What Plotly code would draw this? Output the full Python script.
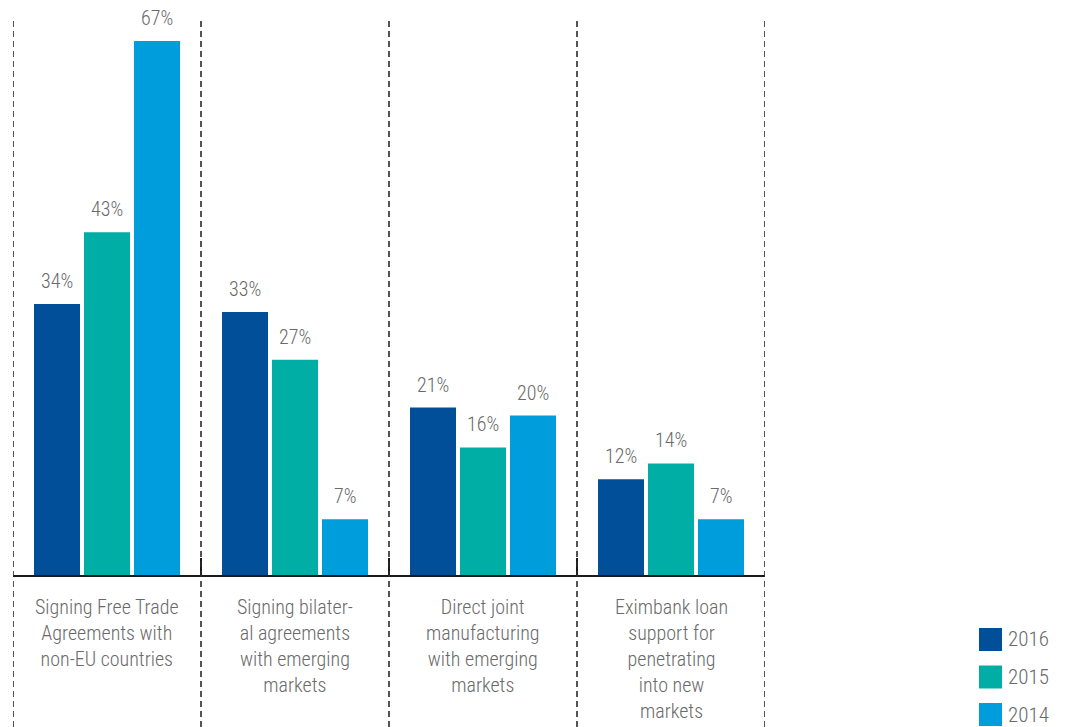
import plotly.graph_objects as go

# Survey results: share of respondents per measure and year
categories = [
    "Signing Free Trade<br>Agreements with<br>non-EU countries",
    "Signing bilater-<br>al agreements<br>with emerging<br>markets",
    "Direct joint<br>manufacturing<br>with emerging<br>markets",
    "Eximbank loan<br>support for<br>penetrating<br>into new<br>markets",
]
years = ["2016", "2015", "2014"]
values_2016 = [34, 33, 21, 12]
values_2015 = [43, 27, 16, 14]
values_2014 = [67, 7, 20, 7]
series = [values_2016, values_2015, values_2014]
colors = ["#004f98", "#00aea6", "#009ddd"]

W, H = 1066, 727
ML, MR, MT, MB = 13, 301, 17, 152
PW, PH = W - ML - MR, H - MT - MB

FONT = "Roboto Condensed, Liberation Sans Narrow, Roboto, sans-serif"
GREY = "#6a6a6a"


def paper_x(px):
    return (px - ML) / PW


def paper_y(py):
    return (H - MB - py) / PH


n_cat = len(categories)
slot = 50 / 188          # spacing between bar centres, in category units
bar_w = 46 / 188         # bar width, in category units
idx = list(range(n_cat))

fig = go.Figure()
annotations = []

for k, (year, vals, col) in enumerate(zip(years, series, colors)):
    centre_shift = (k - 1) * slot
    fig.add_trace(go.Bar(
        x=idx, y=vals, name=year,
        marker=dict(color=col, line=dict(width=0)),
        width=bar_w, offset=centre_shift - bar_w / 2,
        showlegend=False, hoverinfo="skip",
    ))
    for i, v in zip(idx, vals):
        annotations.append(dict(
            x=i + centre_shift, y=v, xref="x", yref="y",
            text=f"{v}%", showarrow=False, yanchor="bottom", yshift=9,
            font=dict(family=FONT, size=20, color=GREY, weight=300),
        ))

# Category labels under the axis
for i, lab in zip(idx, categories):
    annotations.append(dict(
        x=i, y=0, xref="x", yref="paper", text=lab, showarrow=False,
        yanchor="top", yshift=-18, align="center",
        font=dict(family=FONT, size=20, color=GREY, weight=300),
    ))

shapes = []
# Dashed separators between categories
for b in [i - 0.5 for i in idx] + [n_cat - 0.5]:
    shapes.append(dict(
        type="line", xref="x", yref="paper", x0=b, x1=b,
        y0=paper_y(H), y1=1,
        line=dict(color="#2a2a2a", width=1.6, dash="6px,4px"),
    ))

# Legend
for k, (year, col) in enumerate(zip(years, colors)):
    top = 628 + k * 37.5
    shapes.append(dict(
        type="rect", xref="paper", yref="paper",
        x0=paper_x(979), x1=paper_x(1002),
        y0=paper_y(top + 23), y1=paper_y(top),
        fillcolor=col, line=dict(width=0),
    ))
    annotations.append(dict(
        x=paper_x(1006), y=paper_y(top + 11.5), xref="paper", yref="paper",
        text=year, showarrow=False, xanchor="left", yanchor="middle",
        font=dict(family=FONT, size=21, color=GREY, weight=300),
    ))

fig.update_layout(
    width=W, height=H,
    margin=dict(l=ML, r=MR, t=MT, b=MB, pad=0),
    paper_bgcolor="white", plot_bgcolor="white",
    barmode="overlay",
    xaxis=dict(
        range=[-0.5, n_cat - 0.5], showgrid=False, zeroline=False,
        showline=True, linecolor="#1a1a1a", linewidth=1.5,
        tickmode="array", tickvals=[i - 0.5 for i in idx] + [n_cat - 0.5],
        ticks="inside", ticklen=17, tickwidth=1.5, tickcolor="#1a1a1a",
        showticklabels=False, fixedrange=True,
    ),
    yaxis=dict(range=[0, 70], visible=False, fixedrange=True),
    annotations=annotations,
    shapes=shapes,
    showlegend=False,
)

fig.write_html("out.html", config={"displayModeBar": False})
